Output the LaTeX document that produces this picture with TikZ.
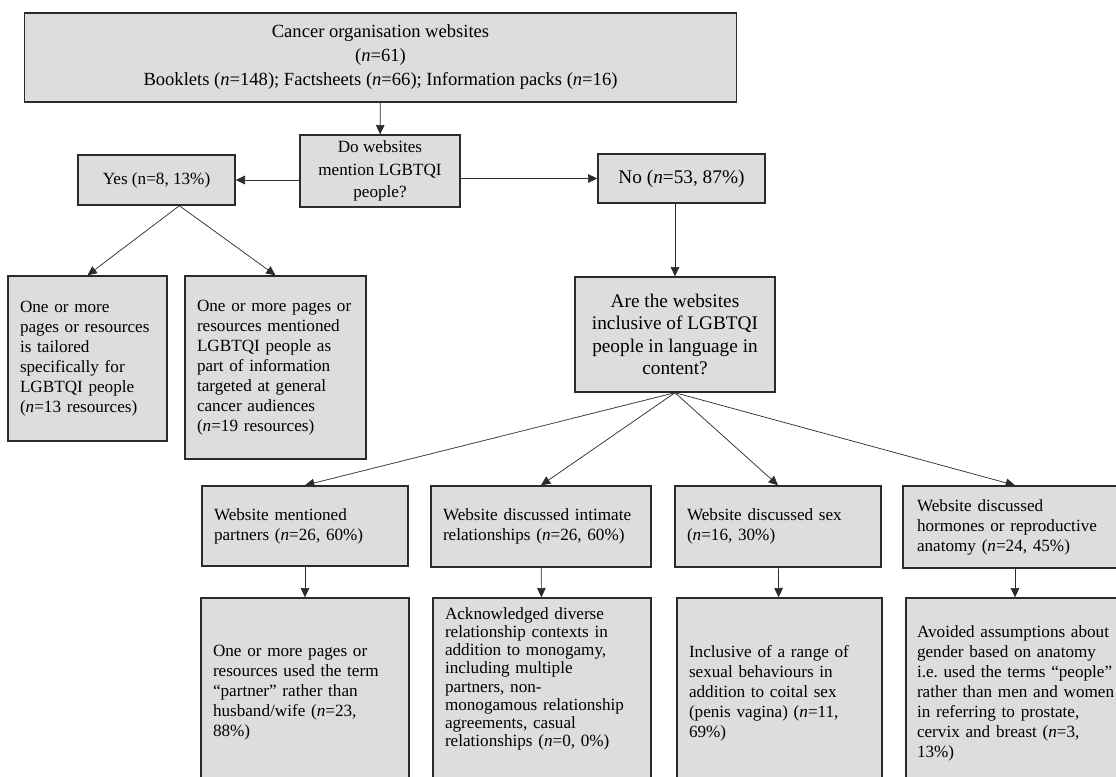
\documentclass[tikz,border=0pt]{standalone}
\usepackage{fontspec}
\setmainfont{Liberation Serif}
\usetikzlibrary{arrows.meta,positioning}
\definecolor{FlowFill}{HTML}{DCDDDF}
\definecolor{FlowLine}{HTML}{2B2B2B}
\frenchspacing

\begin{document}
\begin{tikzpicture}[
	x=0.7pt, y=-0.7pt,
	box/.style={draw=FlowLine, line width=1pt, fill=FlowFill, inner sep=0pt, align=center, font=\fontsize{12}{16}\selectfont},
	leaf/.style={box, align=left, font=\fontsize{12}{14}\selectfont\frenchspacing},
	arrow/.style={-{Triangle[length=6.5pt,width=6pt]}, line width=0.5pt, draw=FlowLine}
]
\useasboundingbox (0,0) rectangle (1116,776);
\fill[white] (0,0) rectangle (1116,776);
\clip (0,0) rectangle (1116,776);

% top of the flow
\node[box, minimum width=498.4pt, minimum height=62.3pt, font=\fontsize{13}{16.8}\selectfont] (sites) at (380.5,57.5) {Cancer organisation websites\\(\textit{n}=61)\\Booklets (\textit{n}=148); Factsheets (\textit{n}=66); Information packs (\textit{n}=16)};
\node[box, minimum width=112pt, minimum height=50.4pt] (mention) at (380,171) {Do websites\\mention LGBTQI\\people?};
\node[box, minimum width=109.9pt, minimum height=35pt] (yes) at (156.5,180) {Yes (n=8, 13\%)};
\node[box, minimum width=116.9pt, minimum height=34.3pt, font=\fontsize{13.5}{16}\selectfont] (no) at (681.5,178.5) {No (\textit{n}=53, 87\%)};

% yes branch
\node[leaf, minimum width=111.3pt, minimum height=115.5pt, text width=94.5pt] (tailored) at (87.5,358.5) {One or more\\pages or resources\\is tailored\\specifically for\\LGBTQI people\\(\textit{n}=13 resources)};
\node[leaf, minimum width=126.7pt, minimum height=128.1pt, text width=109.9pt] (general) at (275.5,367.5) {One or more pages or\\resources mentioned\\LGBTQI people as\\part of information\\targeted at general\\cancer audiences\\(\textit{n}=19 resources)};

% no branch
\node[box, minimum width=140pt, minimum height=80.5pt, font=\fontsize{13.5}{15.75}\selectfont] (inclusive) at (675,334.5) {Are the websites\\inclusive of LGBTQI\\people in language in\\content?};

\node[leaf, minimum width=144.2pt, minimum height=56pt, text width=127.4pt] (partners) at (305,526) {Website mentioned\\partners (\textit{n}=26, 60\%)};
\node[leaf, minimum width=154pt, minimum height=56.7pt, text width=137.2pt] (intimate) at (541,526.5) {Website discussed intimate\\relationships (\textit{n}=26, 60\%)};
\node[leaf, minimum width=144.2pt, minimum height=56.7pt, text width=127.4pt] (sex) at (778,526.5) {Website discussed sex\\(\textit{n}=16, 30\%)};
\node[leaf, minimum width=156.8pt, minimum height=57.4pt, text width=137.2pt] (anatomy) at (1015,527) {Website discussed\\hormones or reproductive\\anatomy (\textit{n}=24, 45\%)};

\node[leaf, minimum width=145.6pt, minimum height=133pt, text width=128.8pt] (partnerterm) at (305,693) {One or more pages or\\resources used the term\\“partner” rather than\\husband/wife (\textit{n}=23,\\88\%)};
\node[leaf, minimum width=152.6pt, minimum height=133pt, text width=135.8pt, font=\fontsize{12}{12.75}\selectfont\frenchspacing, text depth=111.5pt] (diverse) at (542,693) {Acknowledged diverse\\relationship contexts in\\addition to monogamy,\\including multiple\\partners, non-\\monogamous relationship\\agreements, casual\\relationships (\textit{n}=0, 0\%)};
\node[leaf, minimum width=143.5pt, minimum height=133pt, text width=126.7pt] (behaviours) at (779.5,693) {Inclusive of a range of\\sexual behaviours in\\addition to coital sex\\(penis vagina) (\textit{n}=11,\\69\%)};
\node[leaf, minimum width=163.8pt, minimum height=133pt, text width=148.4pt] (assumptions) at (1023,693) {Avoided assumptions about\\gender based on anatomy\\i.e. used the terms “people”\\rather than men and women\\in referring to prostate,\\cervix and breast (\textit{n}=3,\\13\%)};

\draw[arrow] (sites) -- (mention);
\draw[arrow] (mention.west |- yes) -- (yes.east);
\draw[arrow] (mention.east |- no) -- (no.west);
\draw[arrow] ([xshift=16pt]yes.south) -- (tailored.north);
\draw[arrow] ([xshift=16pt]yes.south) -- (general.north);
\draw[arrow] (no.south -| inclusive.north) -- (inclusive.north);
\foreach \topic in {partners,intimate,sex,anatomy}
	\draw[arrow] (inclusive.south) -- (\topic.north);
\draw[arrow] (partners) -- (partnerterm);
\draw[arrow] (intimate) -- (diverse);
\draw[arrow] (sex) -- (behaviours);
\draw[arrow] (anatomy.south) -- (anatomy.south |- assumptions.north);
\end{tikzpicture}
\end{document}
